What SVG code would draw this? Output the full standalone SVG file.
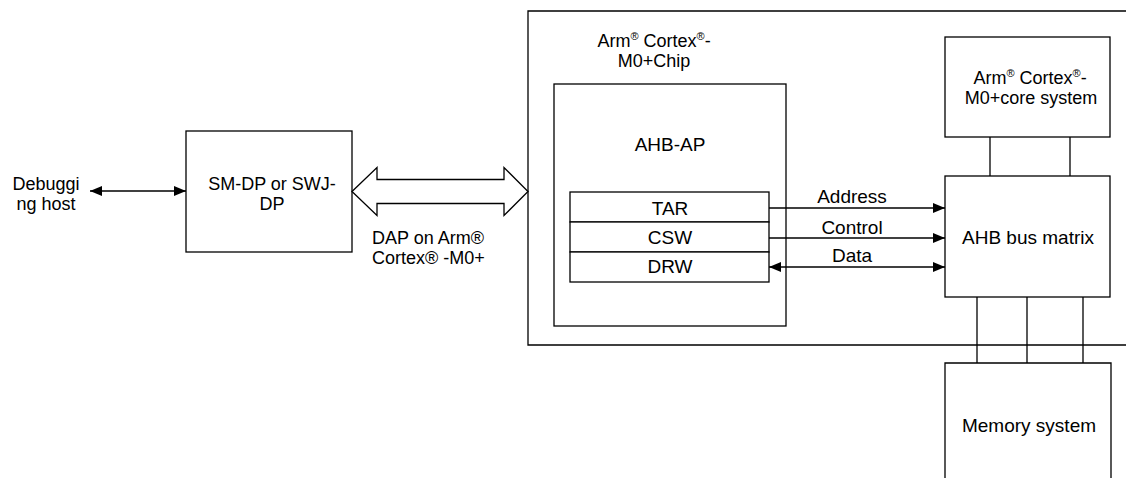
<svg xmlns="http://www.w3.org/2000/svg" width="1126" height="478" viewBox="0 0 1126 478">
<defs>
<marker id="ah" viewBox="0 0 12 10" refX="12" refY="5" markerWidth="12" markerHeight="10" markerUnits="userSpaceOnUse" orient="auto-start-reverse">
<path d="M0,0 L12,5 L0,10 Z" fill="#000"/>
</marker>
<style>
.box{fill:#fff;stroke:#000;stroke-width:1.3}
.ln{fill:none;stroke:#000;stroke-width:1.3}
text{font-family:"Liberation Sans",Arial,sans-serif;font-size:19px;fill:#000}
.m{font-size:18px}
.c{text-anchor:middle}
.sup{font-size:11px}
</style>
</defs>
<rect width="1126" height="478" fill="#fff"/>
<g id="chip">
<path class="ln" d="M1126,11 H528 V345 H1126"/>
<text class="c m" x="654" y="47">Arm<tspan class="sup" dy="-7">®</tspan><tspan dy="7"> Cortex</tspan><tspan class="sup" dy="-7">®</tspan><tspan dy="7">-</tspan></text>
<text class="c m" x="654" y="67">M0+Chip</text>
</g>
<g id="ahb-ap">
<rect class="box" x="554" y="84" width="232" height="242"/>
<text class="c" x="670" y="151">AHB-AP</text>
</g>
<g id="tar">
<rect class="box" x="570" y="192" width="199" height="30"/>
<text class="c" x="670" y="215">TAR</text>
</g>
<g id="csw">
<rect class="box" x="570" y="222" width="199" height="30"/>
<text class="c" x="670" y="244">CSW</text>
</g>
<g id="drw">
<rect class="box" x="570" y="252" width="199" height="30"/>
<text class="c" x="670" y="273">DRW</text>
</g>
<g id="core">
<rect class="box" x="945" y="37" width="165" height="100"/>
<text class="c m" x="1030" y="84">Arm<tspan class="sup" dy="-7">®</tspan><tspan dy="7"> Cortex</tspan><tspan class="sup" dy="-7">®</tspan><tspan dy="7">-</tspan></text>
<text class="c m" x="1031" y="104">M0+core system</text>
</g>
<g id="matrix">
<rect class="box" x="945" y="176" width="165" height="121"/>
<text class="c" x="1028" y="244">AHB bus matrix</text>
</g>
<g id="memory">
<path class="box" d="M945,478 V363 H1111 V478"/>
<text class="c" x="1029" y="432">Memory system</text>
</g>
<g id="smdp">
<rect class="box" x="186" y="131" width="166" height="121"/>
<text class="c m" x="272" y="190">SM-DP or SWJ-</text>
<text class="c m" x="272" y="210">DP</text>
</g>
<g id="host">
<text class="c m" x="46" y="190">Debuggi</text>
<text class="c m" x="46" y="210">ng host</text>
</g>
<g id="connectors">
<line class="ln" x1="90" y1="191" x2="186" y2="191" marker-start="url(#ah)" marker-end="url(#ah)"/>
<path class="box" d="M352,191.5 L377,167.5 V179.5 H504 V167.5 L528,191.5 L504,215.5 V203.5 H377 V215.5 Z"/>
<text class="m" x="372" y="244">DAP on Arm®</text>
<text class="m" x="372" y="264">Cortex® -M0+</text>
<line class="ln" x1="769" y1="208" x2="945" y2="208" marker-end="url(#ah)"/>
<text class="c" x="852" y="203">Address</text>
<line class="ln" x1="769" y1="238" x2="945" y2="238" marker-end="url(#ah)"/>
<text class="c" x="852" y="234">Control</text>
<line class="ln" x1="769" y1="267" x2="945" y2="267" marker-start="url(#ah)" marker-end="url(#ah)"/>
<text class="c" x="852" y="262">Data</text>
<line class="ln" x1="990" y1="137" x2="990" y2="176"/>
<line class="ln" x1="1070" y1="137" x2="1070" y2="176"/>
<line class="ln" x1="977" y1="297" x2="977" y2="363"/>
<line class="ln" x1="1027" y1="297" x2="1027" y2="363"/>
<line class="ln" x1="1083" y1="297" x2="1083" y2="363"/>
</g>
</svg>
